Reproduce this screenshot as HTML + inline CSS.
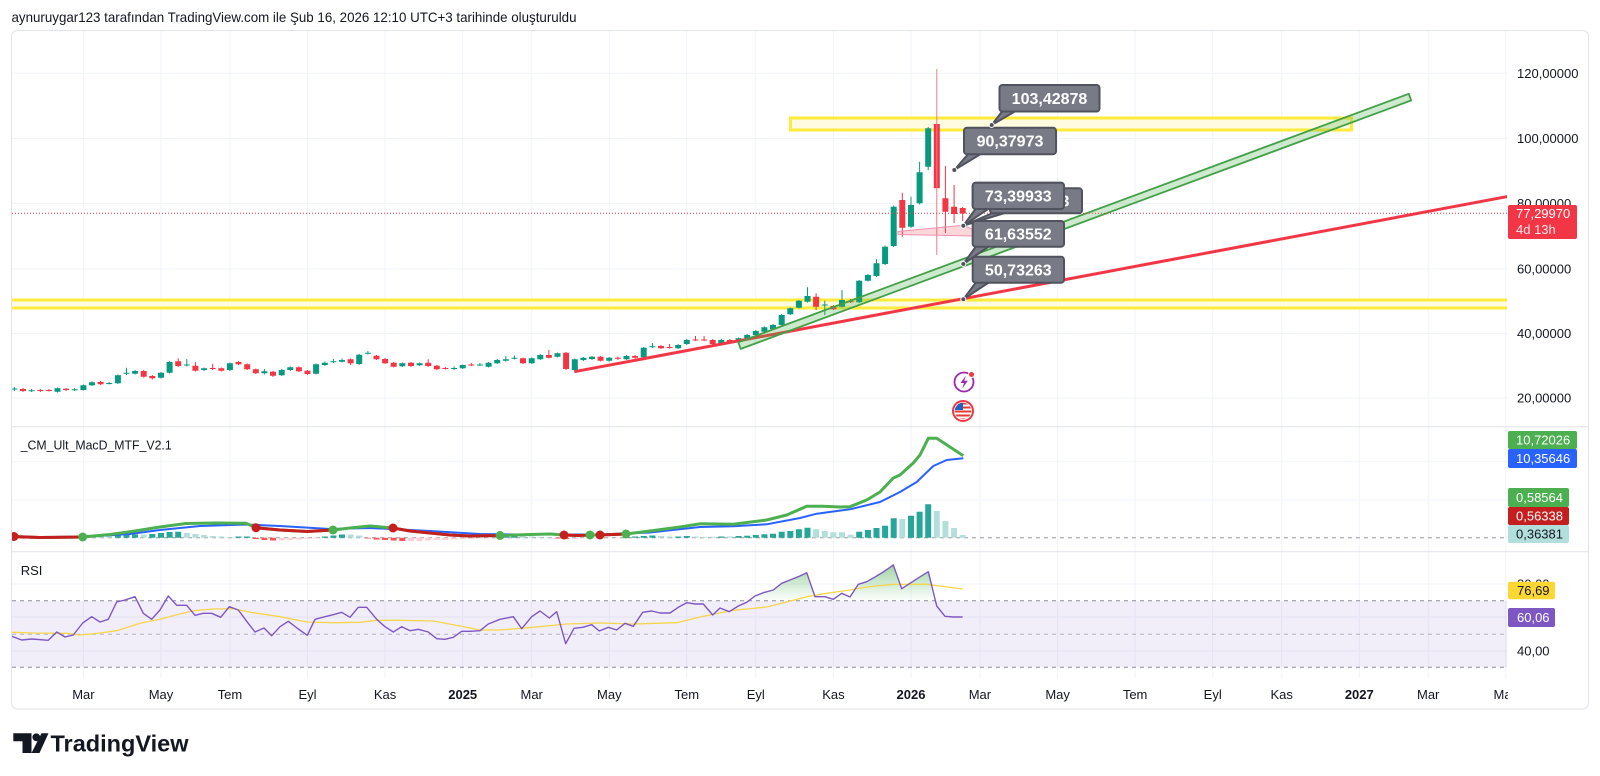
<!DOCTYPE html>
<html><head><meta charset="utf-8">
<style>
html,body{margin:0;padding:0;background:#fff;width:1600px;height:776px;overflow:hidden}
svg{display:block;font-family:"Liberation Sans",Arial,sans-serif}
</style></head>
<body>
<svg width="1600" height="776" viewBox="0 0 1600 776" xmlns="http://www.w3.org/2000/svg">
<defs>
<clipPath id="cMain"><rect x="12" y="31" width="1495" height="395.5"/></clipPath>
<clipPath id="cMacd"><rect x="12" y="427" width="1495" height="124.5"/></clipPath>
<clipPath id="cRsi"><rect x="12" y="552" width="1495" height="126"/></clipPath>
<clipPath id="cTime"><rect x="12" y="680" width="1496" height="28"/></clipPath>
<clipPath id="cFlag"><circle cx="963" cy="411" r="8.2"/></clipPath>
<linearGradient id="gOb" x1="0" y1="550" x2="0" y2="601" gradientUnits="userSpaceOnUse">
<stop offset="0" stop-color="#4caf50" stop-opacity="0.75"/>
<stop offset="1" stop-color="#4caf50" stop-opacity="0"/>
</linearGradient>
</defs>
<rect width="1600" height="776" fill="#fff"/>

<!-- header -->
<text x="11.5" y="22" font-size="14" fill="#131722" textLength="565" lengthAdjust="spacingAndGlyphs">aynuruygar123 tarafından TradingView.com ile Şub 16, 2026 12:10 UTC+3 tarihinde oluşturuldu</text>

<!-- vertical grid -->
<g stroke="#f0f3fa" stroke-width="1">
<path d="M83.4 31V678M161 31V678M229.9 31V678M307.5 31V678M385.1 31V678M462.7 31V678M531.7 31V678M609.3 31V678M686.8 31V678M755.8 31V678M833.4 31V678M911 31V678M979.9 31V678M1057.6 31V678M1135.1 31V678M1212.7 31V678M1281.7 31V678M1359.3 31V678M1428.2 31V678M1505.8 31V678"/>
<path d="M12 73.3H1507M12 138.5H1507M12 203.5H1507M12 269H1507M12 333.5H1507M12 398H1507"/>
<path d="M12 461.7H1507M12 500H1507"/>
<path d="M12 584H1507M12 617H1507M12 651H1507"/>
</g>

<!-- frame & separators -->
<rect x="11.5" y="30.5" width="1577" height="678.5" rx="6" fill="none" stroke="#e0e3eb"/>
<path d="M11.5 426.7H1588M11.5 551.7H1588" stroke="#e0e3eb" stroke-width="1"/>

<!-- ===== MAIN PANE ===== -->
<g clip-path="url(#cMain)">
<rect x="790.5" y="118" width="561" height="12" fill="#fffbe0" stroke="#ffeb3b" stroke-width="3"/>
<rect x="4" y="300" width="1530" height="8" fill="#fffbe0" stroke="#ffeb3b" stroke-width="3"/>

<!-- candles green -->
<path fill="#089981" d="M11.4 388.5h6V389.5h-6zM28.6 390.2h6V391.2h-6zM54.5 388.3h6V391.7h-6zM71.7 389.2h6V390.2h-6zM80.4 385.3h6V390h-6zM89 382.3h6V385.3h-6zM106.2 383h6V384h-6zM114.9 375.3h6V383.3h-6zM123.5 372.8h6V373.8h-6zM132.1 371h6V373.7h-6zM158 372.7h6V377.7h-6zM166.6 362h6V372.7h-6zM183.8 364.5h6V365.5h-6zM201.1 368.3h6V370h-6zM226.9 363.3h6V370h-6zM261.4 371.3h6V373.3h-6zM278.7 370h6V375.3h-6zM287.3 367.3h6V370h-6zM313.1 364.3h6V373.7h-6zM321.8 362.7h6V365h-6zM330.4 361.2h6V362.2h-6zM339 360h6V361.7h-6zM356.2 354.7h6V364h-6zM364.9 352.8h6V353.8h-6zM399.3 363.3h6V366.3h-6zM416.6 363.3h6V365.3h-6zM451.1 368h6V369h-6zM459.7 365h6V368.3h-6zM476.9 364.5h6V365.5h-6zM485.6 362.7h6V366.7h-6zM494.2 360h6V363.3h-6zM502.8 359.3h6V360.7h-6zM511.4 357.8h6V358.8h-6zM528.7 358.3h6V363.3h-6zM537.3 355h6V359.3h-6zM554.5 353.3h6V356.7h-6zM571.8 359.3h6V370h-6zM580.4 357.7h6V360h-6zM589 356.7h6V359h-6zM606.2 357.7h6V360.7h-6zM623.5 356h6V359.3h-6zM640.7 347.7h6V357.3h-6zM649.4 346.2h6V347.2h-6zM675.2 345h6V348.3h-6zM683.8 340h6V344h-6zM718.3 340h6V344h-6zM735.6 338.3h6V341.7h-6zM744.2 335h6V338.3h-6zM752.8 331h6V335h-6zM761.4 327.3h6V331.7h-6zM770 325h6V329h-6zM778.7 315h6V325h-6zM787.3 308.3h6V314.3h-6zM795.9 300.7h6V307.7h-6zM804.5 296h6V301.7h-6zM821.8 304.5h6V305.5h-6zM839 300h6V306.7h-6zM856.2 280.7h6V302.3h-6zM864.9 275h6V280.7h-6zM873.5 263.3h6V276h-6zM882.1 246.7h6V264h-6zM890.7 206.7h6V246h-6zM908 205h6V226.7h-6zM916.6 172.3h6V203.3h-6zM925.2 128.3h6V166.7h-6z"/>
<path stroke="#089981" stroke-width="1" fill="none" d="M14.4 387V391M31.6 389V392M57.5 387.5V392.5M74.7 388V391M83.4 384.5V390.5M92 381.5V386M109.2 382V384.5M117.9 374.5V384M126.5 367.7V375M135.1 370V374.5M161 372V378.5M169.6 361V373.5M186.8 359V366.5M204.1 367.5V371M229.9 362.5V371M264.4 369V374.5M281.7 369V376M290.3 366.5V371M316.1 363.5V374.5M324.8 361.5V366M333.4 359V363M342 358.5V362.5M359.2 354V365M367.9 351V354.5M402.3 362.5V367M419.6 362.5V366M454.1 366.5V370M462.7 364.5V369M479.9 363V366M488.6 362V367.5M497.2 359V364M505.8 356V361.5M514.4 355.5V359.5M531.7 357.5V364M540.3 354V360M557.5 352.5V357.5M574.8 358.5V371M583.4 357V361M592 356V360M609.2 357V361.5M626.5 355V360M643.7 347V358M652.4 343V348M678.2 344V349M686.8 339V345M721.3 339V345M738.6 337.5V342.5M747.2 334V339M755.8 330V336M764.4 326.5V332.5M773 324V330M781.7 314V326M790.3 307.5V315M798.9 300V308.5M807.5 287.3V302.5M824.8 300.7V315M842 290V307.5M859.2 280V303M867.9 274V281.5M876.5 259.3V277M885.1 245.5V265M893.7 205.5V247M911 196.7V228M919.6 161.7V204.5M928.2 127V170"/>
<!-- candles red -->
<path fill="#f23645" d="M20 389h6V391h-6zM37.3 390h6V391h-6zM45.9 390h6V391h-6zM63.1 388.7h6V390h-6zM97.6 382h6V384.3h-6zM140.7 371h6V376.7h-6zM149.3 376h6V378.3h-6zM175.2 361.3h6V366h-6zM192.4 365.7h6V370.7h-6zM209.7 368h6V369h-6zM218.3 368.3h6V370.7h-6zM235.5 362h6V364.3h-6zM244.2 364.3h6V369.3h-6zM252.8 369.3h6V373.3h-6zM270 371.7h6V375.7h-6zM295.9 367.3h6V371.3h-6zM304.5 370.7h6V374h-6zM347.6 359.3h6V363.3h-6zM373.5 355.7h6V359.3h-6zM382.1 359h6V363.3h-6zM390.7 362.7h6V366.7h-6zM408 362.7h6V366h-6zM425.2 362.7h6V366h-6zM433.8 365.7h6V369.3h-6zM442.4 368h6V369h-6zM468.3 364.5h6V365.5h-6zM520 358.3h6V363.3h-6zM545.9 355h6V357.7h-6zM563.1 352.7h6V369h-6zM597.6 356.7h6V360.7h-6zM614.9 357.8h6V358.8h-6zM632.1 356h6V357.7h-6zM658 346h6V348.3h-6zM666.6 347h6V348h-6zM692.5 339.5h6V340.5h-6zM701.1 339.5h6V340.5h-6zM709.7 340h6V344h-6zM726.9 340h6V342.7h-6zM813.1 296.7h6V306.7h-6zM830.4 306h6V309.3h-6zM847.6 301.2h6V302.2h-6zM899.3 200h6V227.7h-6zM933.8 124h6V188.3h-6zM942.4 198.3h6V211.7h-6zM951.1 206.7h6V214h-6zM959.7 208h6V213.5h-6z"/>
<path stroke="#f23645" stroke-width="1" fill="none" d="M23 388V392M40.3 389V392M48.9 389V391.5M66.1 388V391M100.6 381V385M143.7 370V377.5M152.3 375V379.5M178.2 358.3V367M195.4 362.3V371.5M212.7 363.7V370M221.3 367.5V371.5M238.5 361V365M247.2 363.5V370M255.8 368.5V374M273 371V377M298.9 366.5V372M307.5 370V375M350.6 358.5V365M376.5 355V360M385.1 358V364M393.7 362V367.5M411 362V367M428.2 359.3V367M436.8 365V370M445.4 367V369.5M471.3 363V366M523 357.5V364M548.9 350V358.5M566.1 352V370M600.6 356V361.5M617.9 356.5V360M635.1 355V358.5M661 345V349M669.6 344V348.5M695.5 336V341M704.1 336V341M712.7 339V345M729.9 339V343.5M816.1 293.3V310M833.4 305V310M850.6 299V303M902.3 192.7V236.7M945.4 166V233M954.1 185V223M962.7 207V221"/>
<path stroke="#f07a85" stroke-width="1" d="M936.8 69V255"/>

<!-- pink shape -->
<polygon points="898,231.5 963.3,225.2 974,230 974,236 898,234.5" fill="rgba(242,54,69,0.2)" stroke="#f48fb1" stroke-width="1"/>
<!-- trend lines -->
<line x1="574.3" y1="371.7" x2="1520" y2="194.2" stroke="#f23645" stroke-width="3"/>
<polygon points="738.3,342.3 1408.8,93.8 1411.2,100.4 740.7,348.9" fill="rgba(76,175,80,0.28)" stroke="#43a047" stroke-width="1.8" stroke-linejoin="round"/>
<!-- last price line -->
<line x1="12" y1="213.3" x2="1507" y2="213.3" stroke="#f23645" stroke-width="1" stroke-dasharray="1 2"/>

<!-- callouts -->
<g stroke="#50535e" stroke-width="2" fill="#787b86" stroke-linejoin="round">
<polygon points="1004,109 1019,109 991.7,125"/>
<rect x="999.5" y="85" width="100" height="26.5" rx="3"/>
<polygon points="970,152 984,152 954.3,170"/>
<rect x="964" y="127.7" width="92" height="26.5" rx="3"/>
<polygon points="995,212 1008,212 963.3,225.7"/>
<rect x="990" y="188.3" width="92" height="25" rx="3"/>
<polygon points="977,207 991,207 963.3,225.7"/>
<rect x="972.7" y="182.7" width="91.3" height="26.3" rx="3"/>
<polygon points="977,245 991,245 963.3,264"/>
<rect x="972.7" y="221" width="91.3" height="25.7" rx="3"/>
<polygon points="977,281 991,281 963.3,299.3"/>
<rect x="972.7" y="256.7" width="91.3" height="26" rx="3"/>
</g>
<g fill="#fff" font-size="16" font-weight="bold" text-anchor="middle">
<text x="1049.5" y="104">103,42878</text>
<text x="1010" y="146.5">90,37973</text>
<text x="1036" y="206.5">73,39933</text>
</g>
<g stroke="#50535e" stroke-width="2" fill="#787b86"><rect x="972.7" y="182.7" width="91.3" height="26.3" rx="3"/></g>
<g fill="#fff" font-size="16" font-weight="bold" text-anchor="middle">
<text x="1018.3" y="201.5">73,39933</text>
<text x="1018.3" y="239.5">61,63552</text>
<text x="1018.3" y="275.5">50,73263</text>
</g>
<g fill="#50535e" stroke="#fff" stroke-width="1">
<circle cx="991.7" cy="125" r="2.5"/><circle cx="954.3" cy="170" r="2.5"/><circle cx="963.3" cy="225.7" r="2.5"/><circle cx="963.3" cy="264" r="2.5"/><circle cx="963.3" cy="299.3" r="2.5"/>
</g>

<!-- icons -->
<circle cx="964" cy="382" r="9.5" fill="#fff" stroke="#9c27b0" stroke-width="1.8"/>
<path d="M966 375.5L960.5 383H964L962.3 388.5L967.8 380.8H964.2Z" fill="#9c27b0"/>
<circle cx="971.5" cy="374.5" r="3" fill="#f23645" stroke="#fff" stroke-width="1"/>
<circle cx="963" cy="411" r="10" fill="#fff" stroke="#f23645" stroke-width="2"/>
<g clip-path="url(#cFlag)">
<rect x="954" y="402" width="18" height="18" fill="#fff"/>
<path d="M954 403.5H972M954 407.5H972M954 411.5H972M954 415.5H972M954 419.5H972" stroke="#e53935" stroke-width="2"/>
<rect x="954" y="402" width="9" height="8" fill="#1e63c4"/>
</g>
</g>

<!-- price axis -->
<g font-size="13" fill="#131722">
<text x="1517" y="77.8">120,00000</text>
<text x="1517" y="143">100,00000</text>
<text x="1517" y="208">80,00000</text>
<text x="1517" y="273.5">60,00000</text>
<text x="1517" y="338">40,00000</text>
<text x="1517" y="402.5">20,00000</text>
</g>
<rect x="1508" y="205" width="69" height="34" rx="2" fill="#f23645"/>
<text x="1516" y="218" font-size="13" fill="#fff">77,29970</text>
<text x="1516" y="234" font-size="13" fill="#fde4e6">4d 13h</text>

<!-- ===== MACD PANE ===== -->
<text x="20.7" y="449.5" font-size="13" fill="#131722" textLength="151" lengthAdjust="spacingAndGlyphs">_CM_Ult_MacD_MTF_V2.1</text>
<g clip-path="url(#cMacd)">
<line x1="12" y1="537.7" x2="1507" y2="537.7" stroke="#9598a1" stroke-width="1" stroke-dasharray="4 4"/>
<path fill="#26a69a" d="M114.9 535.5h6V537.7h-6zM123.5 535h6V537.7h-6zM132.1 534.5h6V537.7h-6zM149.3 534h6V537.7h-6zM158 533h6V537.7h-6zM166.6 532h6V537.7h-6zM175.2 531.7h6V537.7h-6zM235.5 536.5h6V537.7h-6zM244.2 536.5h6V537.7h-6zM321.8 536.5h6V537.7h-6zM330.4 535.5h6V537.7h-6zM339 534.5h6V537.7h-6zM502.8 536.5h6V537.7h-6zM511.4 536h6V537.7h-6zM623.5 537h6V537.7h-6zM632.1 536.5h6V537.7h-6zM640.7 536h6V537.7h-6zM649.4 535.5h6V537.7h-6zM675.2 536.5h6V537.7h-6zM683.8 536h6V537.7h-6zM718.3 536.5h6V537.7h-6zM735.6 536h6V537.7h-6zM744.2 535.7h6V537.7h-6zM752.8 535h6V537.7h-6zM761.4 534.3h6V537.7h-6zM770 533.7h6V537.7h-6zM778.7 531.7h6V537.7h-6zM787.3 531h6V537.7h-6zM795.9 529.3h6V537.7h-6zM804.5 527.7h6V537.7h-6zM856.2 531.7h6V537.7h-6zM864.9 530h6V537.7h-6zM873.5 528h6V537.7h-6zM882.1 525.7h6V537.7h-6zM890.7 518.3h6V537.7h-6zM908 515.7h6V537.7h-6zM916.6 511.7h6V537.7h-6zM925.2 504.3h6V537.7h-6z"/>
<path fill="#b2dfdb" d="M80.4 536.5h6V537.7h-6zM89 536.3h6V537.7h-6zM97.6 536h6V537.7h-6zM106.2 536h6V537.7h-6zM140.7 534.5h6V537.7h-6zM183.8 533h6V537.7h-6zM192.4 534h6V537.7h-6zM201.1 535h6V537.7h-6zM209.7 536h6V537.7h-6zM218.3 536.5h6V537.7h-6zM226.9 537h6V537.7h-6zM347.6 534.5h6V537.7h-6zM356.2 535.5h6V537.7h-6zM520 536h6V537.7h-6zM528.7 536.5h6V537.7h-6zM537.3 537h6V537.7h-6zM545.9 537h6V537.7h-6zM658 536h6V537.7h-6zM666.6 536.5h6V537.7h-6zM692.5 536.5h6V537.7h-6zM701.1 537h6V537.7h-6zM709.7 536.8h6V537.7h-6zM726.9 536.5h6V537.7h-6zM813.1 529.3h6V537.7h-6zM821.8 531h6V537.7h-6zM830.4 532.3h6V537.7h-6zM839 532.3h6V537.7h-6zM847.6 534.7h6V537.7h-6zM899.3 519h6V537.7h-6zM933.8 511h6V537.7h-6zM942.4 521h6V537.7h-6zM951.1 528h6V537.7h-6zM959.7 535h6V537.7h-6z"/>
<path fill="#ff5252" d="M252.8 537.7h6V539h-6zM261.4 537.7h6V540h-6zM270 537.7h6V540.5h-6zM364.9 537.7h6V538.5h-6zM373.5 537.7h6V539.5h-6zM382.1 537.7h6V540h-6zM390.7 537.7h6V540.5h-6zM399.3 537.7h6V541h-6zM554.5 537.7h6V538.5h-6zM563.1 537.7h6V539h-6z"/>
<path fill="#ffcdd2" d="M11.4 537.7h6V539h-6zM20 537.7h6V539h-6zM28.6 537.7h6V538.8h-6zM37.3 537.7h6V538.6h-6zM45.9 537.7h6V538.4h-6zM54.5 537.7h6V538.2h-6zM63.1 537.7h6V538h-6zM278.7 537.7h6V540.5h-6zM287.3 537.7h6V540h-6zM295.9 537.7h6V539.5h-6zM304.5 537.7h6V539h-6zM313.1 537.7h6V538.5h-6zM408 537.7h6V541h-6zM416.6 537.7h6V541h-6zM425.2 537.7h6V540.5h-6zM433.8 537.7h6V540h-6zM442.4 537.7h6V540h-6zM451.1 537.7h6V539.5h-6zM459.7 537.7h6V539h-6zM468.3 537.7h6V539h-6zM476.9 537.7h6V538.5h-6zM485.6 537.7h6V538.2h-6zM494.2 537.7h6V538h-6zM571.8 537.7h6V539h-6zM580.4 537.7h6V538.5h-6zM589 537.7h6V538.5h-6zM597.6 537.7h6V538h-6zM606.2 537.7h6V538h-6zM614.9 537.7h6V538.2h-6z"/>
<polyline fill="none" stroke="#2962ff" stroke-width="2" stroke-linejoin="round" points="14,537 82,537 130,534 160,530 200,526 246,524.5 280,526 330,529 370,528 430,531 480,534 520,534.5 600,534.5 650,532.5 700,527 733.3,526.3 766.7,524.3 800,518 816.7,513.7 850,509.3 880,502 900,492 916.7,482 933.3,466 946.7,460 963.3,458.3"/>
<polyline fill="none" stroke="#4caf50" stroke-width="3" stroke-linejoin="round" points="14,536.5 40,537.5 82.7,537 110,534.5 135,531 160,527 186,523.5 215,523 246,523.3 256,527.7 280,530 307,531.5 333,530 350,528 370,526 393,528 410,531 430,533 450,535 470,536 500,535.5 530,534.5 550,534 564,535 578,535.5 590,535 600,535 626,534 650,531 680,527 700,523.8 733,524.3 766.7,520 786.7,515 806.7,506.3 823.3,506.3 840,507 850,506.7 866.7,500 880,492 893.3,478 900,475 913.3,463 920,455 928.3,438.3 936.7,438.3 963.3,455.7"/>
<g fill="none" stroke="#c41e1e" stroke-width="3" stroke-linejoin="round">
<polyline points="12,536.5 40,537.5 82.7,537"/>
<polyline points="256,527.7 280,530 307,531.5 333,530"/>
<polyline points="393,528 410,531 430,533 450,535 470,536 500,535.5"/>
<polyline points="564,535 578,535.5 590,535"/>
<polyline points="600,535 626,534"/>
</g>
<g>
<circle cx="14" cy="536.5" r="4.5" fill="#c41e1e"/>
<circle cx="82.7" cy="537" r="4.5" fill="#4caf50"/>
<circle cx="256" cy="527.7" r="4.5" fill="#c41e1e"/>
<circle cx="333" cy="530" r="4.5" fill="#4caf50"/>
<circle cx="393" cy="528" r="4.5" fill="#c41e1e"/>
<circle cx="500" cy="535.5" r="4.5" fill="#4caf50"/>
<circle cx="564" cy="535" r="4.5" fill="#c41e1e"/>
<circle cx="590" cy="535" r="4.5" fill="#4caf50"/>
<circle cx="600" cy="535" r="4.5" fill="#c41e1e"/>
<circle cx="626" cy="534" r="4.5" fill="#4caf50"/>
</g>
</g>
<!-- MACD labels -->
<g font-size="13">
<rect x="1508" y="431" width="69" height="18" rx="2" fill="#4caf50"/>
<text x="1516" y="444.5" fill="#fff">10,72026</text>
<rect x="1508" y="449" width="69" height="19" rx="2" fill="#2962ff"/>
<text x="1516" y="463" fill="#fff">10,35646</text>
<rect x="1508" y="488" width="61" height="19" rx="2" fill="#4caf50"/>
<text x="1516" y="502" fill="#fff">0,58564</text>
<rect x="1508" y="507" width="61" height="18" rx="2" fill="#c41e1e"/>
<text x="1516" y="520.5" fill="#fff">0,56338</text>
<rect x="1508" y="525" width="61" height="18" rx="2" fill="#b2dfdb"/>
<text x="1516" y="538.5" fill="#131722">0,36381</text>
</g>

<!-- ===== RSI PANE ===== -->
<text x="20.7" y="575" font-size="13" fill="#131722">RSI</text>
<g clip-path="url(#cRsi)">
<rect x="12" y="600.7" width="1495" height="66.6" fill="rgba(126,87,194,0.1)"/>
<g stroke="#8a8d96" stroke-width="1" stroke-dasharray="4 4">
<line x1="12" y1="600.7" x2="1507" y2="600.7"/>
<line x1="12" y1="634.3" x2="1507" y2="634.3" stroke-opacity="0.6"/>
<line x1="12" y1="667.3" x2="1507" y2="667.3"/>
</g>
<polygon fill="url(#gOb)" points="748.5,600.7 755,596 763.3,592.7 773.3,590 781.7,583.3 790,580 798.3,576.7 806.7,572.7 815,596.7 825,596.7 833.3,599.3 841.7,593.3 850,597 858.3,584.3 866.7,581.7 875,577 883.3,572 893.3,565 901.7,588.7 910,583.3 919.3,577.3 928.3,571.7 933.5,600.7"/>
<polyline fill="none" stroke="#f5d54a" stroke-width="1.3" stroke-linejoin="round" points="11.7,632.3 33.3,633 66.7,633.3 80,635 100,633 116.7,630.7 140,623.3 160,619.3 176.7,614.7 193.3,610.7 213.3,609 233.3,608.7 253.3,612.7 280,616.7 306.7,622 333.3,622.7 360,622.3 376.7,620.3 400,620.3 433.3,621 460,626 480,630 500,630 533.3,627.3 566.7,624 600,623 633.3,624 676.7,622.7 700,617 733.3,610.3 766.7,607 786.7,602 806.7,596.7 826.7,593.3 850,590 866.7,587 893.3,584.3 926.7,584.3 962.7,589"/>
<polyline fill="none" stroke="#7e57c2" stroke-width="1.4" stroke-linejoin="round" points="11.7,636.3 21.7,640 31.7,639 48.3,640.3 56.7,632 65,637 73.3,635 82.7,623 91.7,616.7 100,622 108.3,619.3 116.7,602 125,600 135,596.7 143.3,613.3 151.7,619.3 160,610 168.3,596 176.7,605.3 186.7,605.3 195,615.3 203.3,613.3 211.7,613.3 220.7,617.3 229.3,606.7 238.3,610 246.7,621.3 255,632 264,628 271.7,635.7 280,626.7 288.3,621.3 298.3,629 307.3,635.3 315,619.3 325,616.7 333.3,614.7 341.7,612.3 350,617.3 358.3,607.3 366.7,607.3 376.7,619.3 385,626.7 393.3,632 401.7,626.7 410,630.7 418.3,629.3 428.3,632 436.7,638.7 445,639.3 453.3,637.3 461.7,631.3 470,631.3 480,630.7 488.3,624 500,619.3 513.3,616.7 521.7,628.7 531.7,616.7 540,611 549.3,618 556.7,611.7 565.7,643.7 574,628.3 582.7,627.3 591.7,624.7 599.3,631 608.3,627.3 616.7,630 625,623.3 633.3,626.3 642.7,612.3 651.7,611 660,613 670,613 678.3,607.3 686.7,602.7 695,604 703.3,604 712.7,615 720,608 729.3,611.7 738.3,606 746.7,602.3 755,596 763.3,592.7 773.3,590 781.7,583.3 790,580 798.3,576.7 806.7,572.7 815,596.7 825,596.7 833.3,599.3 841.7,593.3 850,597 858.3,584.3 866.7,581.7 875,577 883.3,572 893.3,565 901.7,588.7 910,583.3 919.3,577.3 928.3,571.7 936.7,606 945,616.3 953.3,617 962.7,617"/>
</g>
<g font-size="13">
<text x="1517" y="588.5" fill="#131722">80,00</text>
<rect x="1508" y="581.7" width="47" height="17.5" rx="2" fill="#fdd835"/>
<text x="1517" y="595" fill="#131722">76,69</text>
<rect x="1508" y="608" width="47" height="19" rx="2" fill="#7e57c2"/>
<text x="1517" y="622" fill="#fff">60,06</text>
<text x="1517" y="655.5" fill="#131722">40,00</text>
</g>

<!-- time axis -->
<g clip-path="url(#cTime)" font-size="13" fill="#131722" text-anchor="middle">
<text x="83.4" y="699">Mar</text>
<text x="161" y="699">May</text>
<text x="229.9" y="699">Tem</text>
<text x="307.5" y="699">Eyl</text>
<text x="385.1" y="699">Kas</text>
<text x="462.7" y="699" font-weight="bold">2025</text>
<text x="531.7" y="699">Mar</text>
<text x="609.3" y="699">May</text>
<text x="686.8" y="699">Tem</text>
<text x="755.8" y="699">Eyl</text>
<text x="833.4" y="699">Kas</text>
<text x="911" y="699" font-weight="bold">2026</text>
<text x="979.9" y="699">Mar</text>
<text x="1057.6" y="699">May</text>
<text x="1135.1" y="699">Tem</text>
<text x="1212.7" y="699">Eyl</text>
<text x="1281.7" y="699">Kas</text>
<text x="1359.3" y="699" font-weight="bold">2027</text>
<text x="1428.2" y="699">Mar</text>
<text x="1505.8" y="699">May</text>
</g>

<!-- logo -->
<path d="M13.3 733.3H31.5V753H22.5V741.3H13.3Z" fill="#131722"/>
<circle cx="36.3" cy="737.3" r="3.9" fill="#131722"/>
<polygon points="41.5,733.3 48.5,733.3 39.5,753 31.5,753" fill="#131722"/>
<text x="50.5" y="751.5" font-size="23" font-weight="bold" fill="#131722" textLength="138" lengthAdjust="spacingAndGlyphs">TradingView</text>
</svg>
</body></html>
